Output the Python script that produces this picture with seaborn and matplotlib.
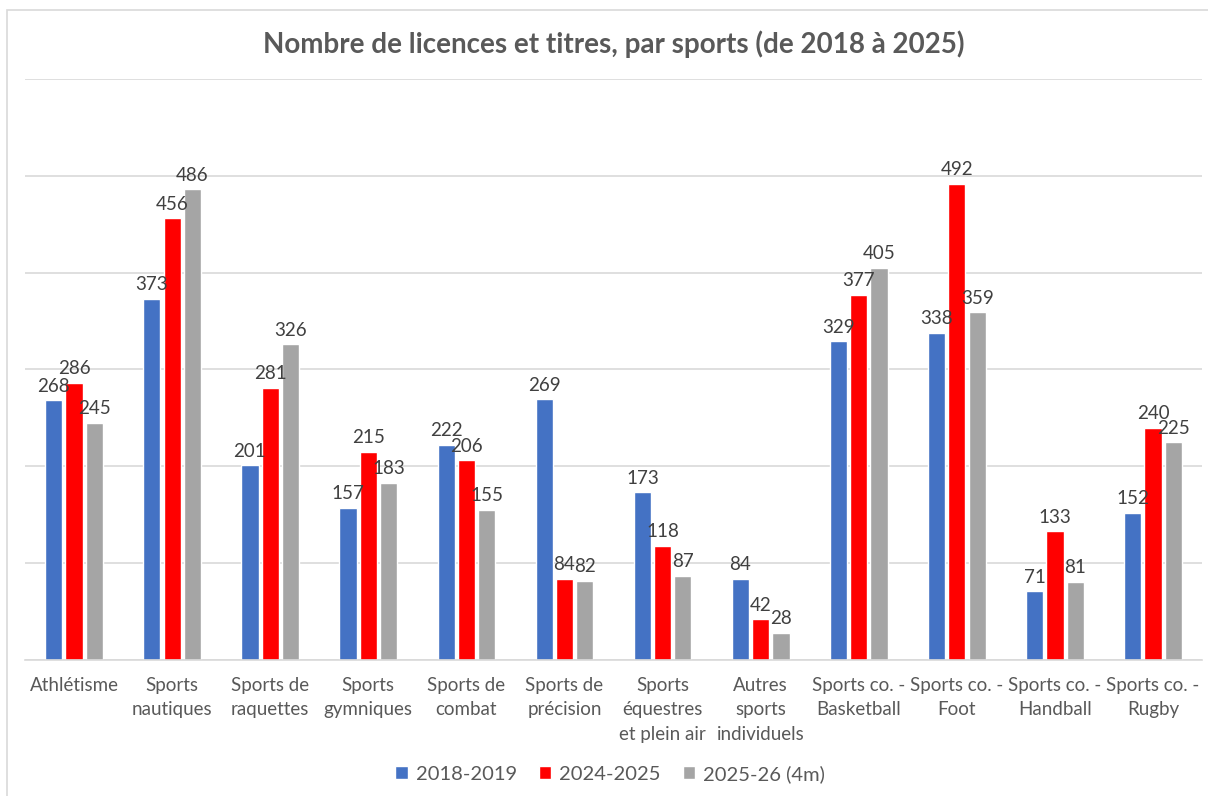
import pandas as pd
import matplotlib.pyplot as plt
import seaborn as sns
from matplotlib.patches import Rectangle

sports = ["Athlétisme", "Sports\nnautiques", "Sports de\nraquettes", "Sports\ngymniques",
          "Sports de\ncombat", "Sports de\nprécision", "Sports\néquestres\net plein air",
          "Autres\nsports\nindividuels", "Sports co. -\nBasketball", "Sports co. -\nFoot",
          "Sports co. -\nHandball", "Sports co. -\nRugby"]
seasons = ["2018-2019", "2024-2025", "2025-26 (4m)"]
v2018 = [268, 373, 201, 157, 222, 269, 173, 84, 329, 338, 71, 152]
v2024 = [286, 456, 281, 215, 206, 84, 118, 42, 377, 492, 133, 240]
v2025 = [245, 486, 326, 183, 155, 82, 87, 28, 405, 359, 81, 225]
colors = ["#4472C4", "#FF0000", "#A5A5A5"]

rows = []
for season, vals in zip(seasons, [v2018, v2024, v2025]):
    for s, v in zip(sports, vals):
        rows.append({"Sport": s, "Saison": season, "Licences": v})
df = pd.DataFrame(rows)

sns.set_style("white")
plt.rcParams['font.family'] = ['Lato', 'DejaVu Sans']

fig = plt.figure(figsize=(12.08, 7.96), dpi=100)
ax = fig.add_axes([0.0207, 0.1709, 0.9744, 0.7299])

sns.barplot(data=df, x="Sport", y="Licences", hue="Saison", palette=colors,
            width=0.62, gap=0.15, ax=ax, saturation=1, legend=True)

for cont in ax.containers:
    ax.bar_label(cont, padding=4, fontsize=13.5, color="#404040")

ax.set_ylim(0, 600)
ax.set_yticks(range(0, 601, 100))
ax.set_yticklabels([])
ax.yaxis.grid(True, color="#D9D9D9", linewidth=1.2)
ax.set_axisbelow(True)
ax.tick_params(axis="y", length=0)
ax.tick_params(axis="x", length=0, labelsize=13.5, labelcolor="#595959", pad=12)
for lab in ax.get_xticklabels():
    lab.set_linespacing(1.55)
ax.set_xlabel("")
ax.set_ylabel("")
for side in ["left", "right", "top"]:
    ax.spines[side].set_visible(False)
ax.spines["bottom"].set_color("#D9D9D9")
ax.spines["bottom"].set_linewidth(1.2)
ax.set_xlim(-0.5, len(sports) - 0.5)

fig.text(0.508, 0.945, "Nombre de licences et titres, par sports (de 2018 à 2025)",
         ha="center", va="center", fontsize=20, fontweight="bold", color="#595959")

handles, labels = ax.get_legend_handles_labels()
ax.legend_.remove()
fig.legend(handles, labels, loc="center", bbox_to_anchor=(0.505, 0.028), ncol=3,
           frameon=False, fontsize=14.5, labelcolor="#595959", handlelength=0.6,
           handleheight=0.6, handletextpad=0.4, columnspacing=1.1)

fig.patches.append(Rectangle((7 / 1208, -0.05), 1.1, 1 - 10 / 796 + 0.05,
                             transform=fig.transFigure, fill=False,
                             edgecolor="#D9D9D9", linewidth=1.2))

fig.savefig("out.png", dpi=100)
